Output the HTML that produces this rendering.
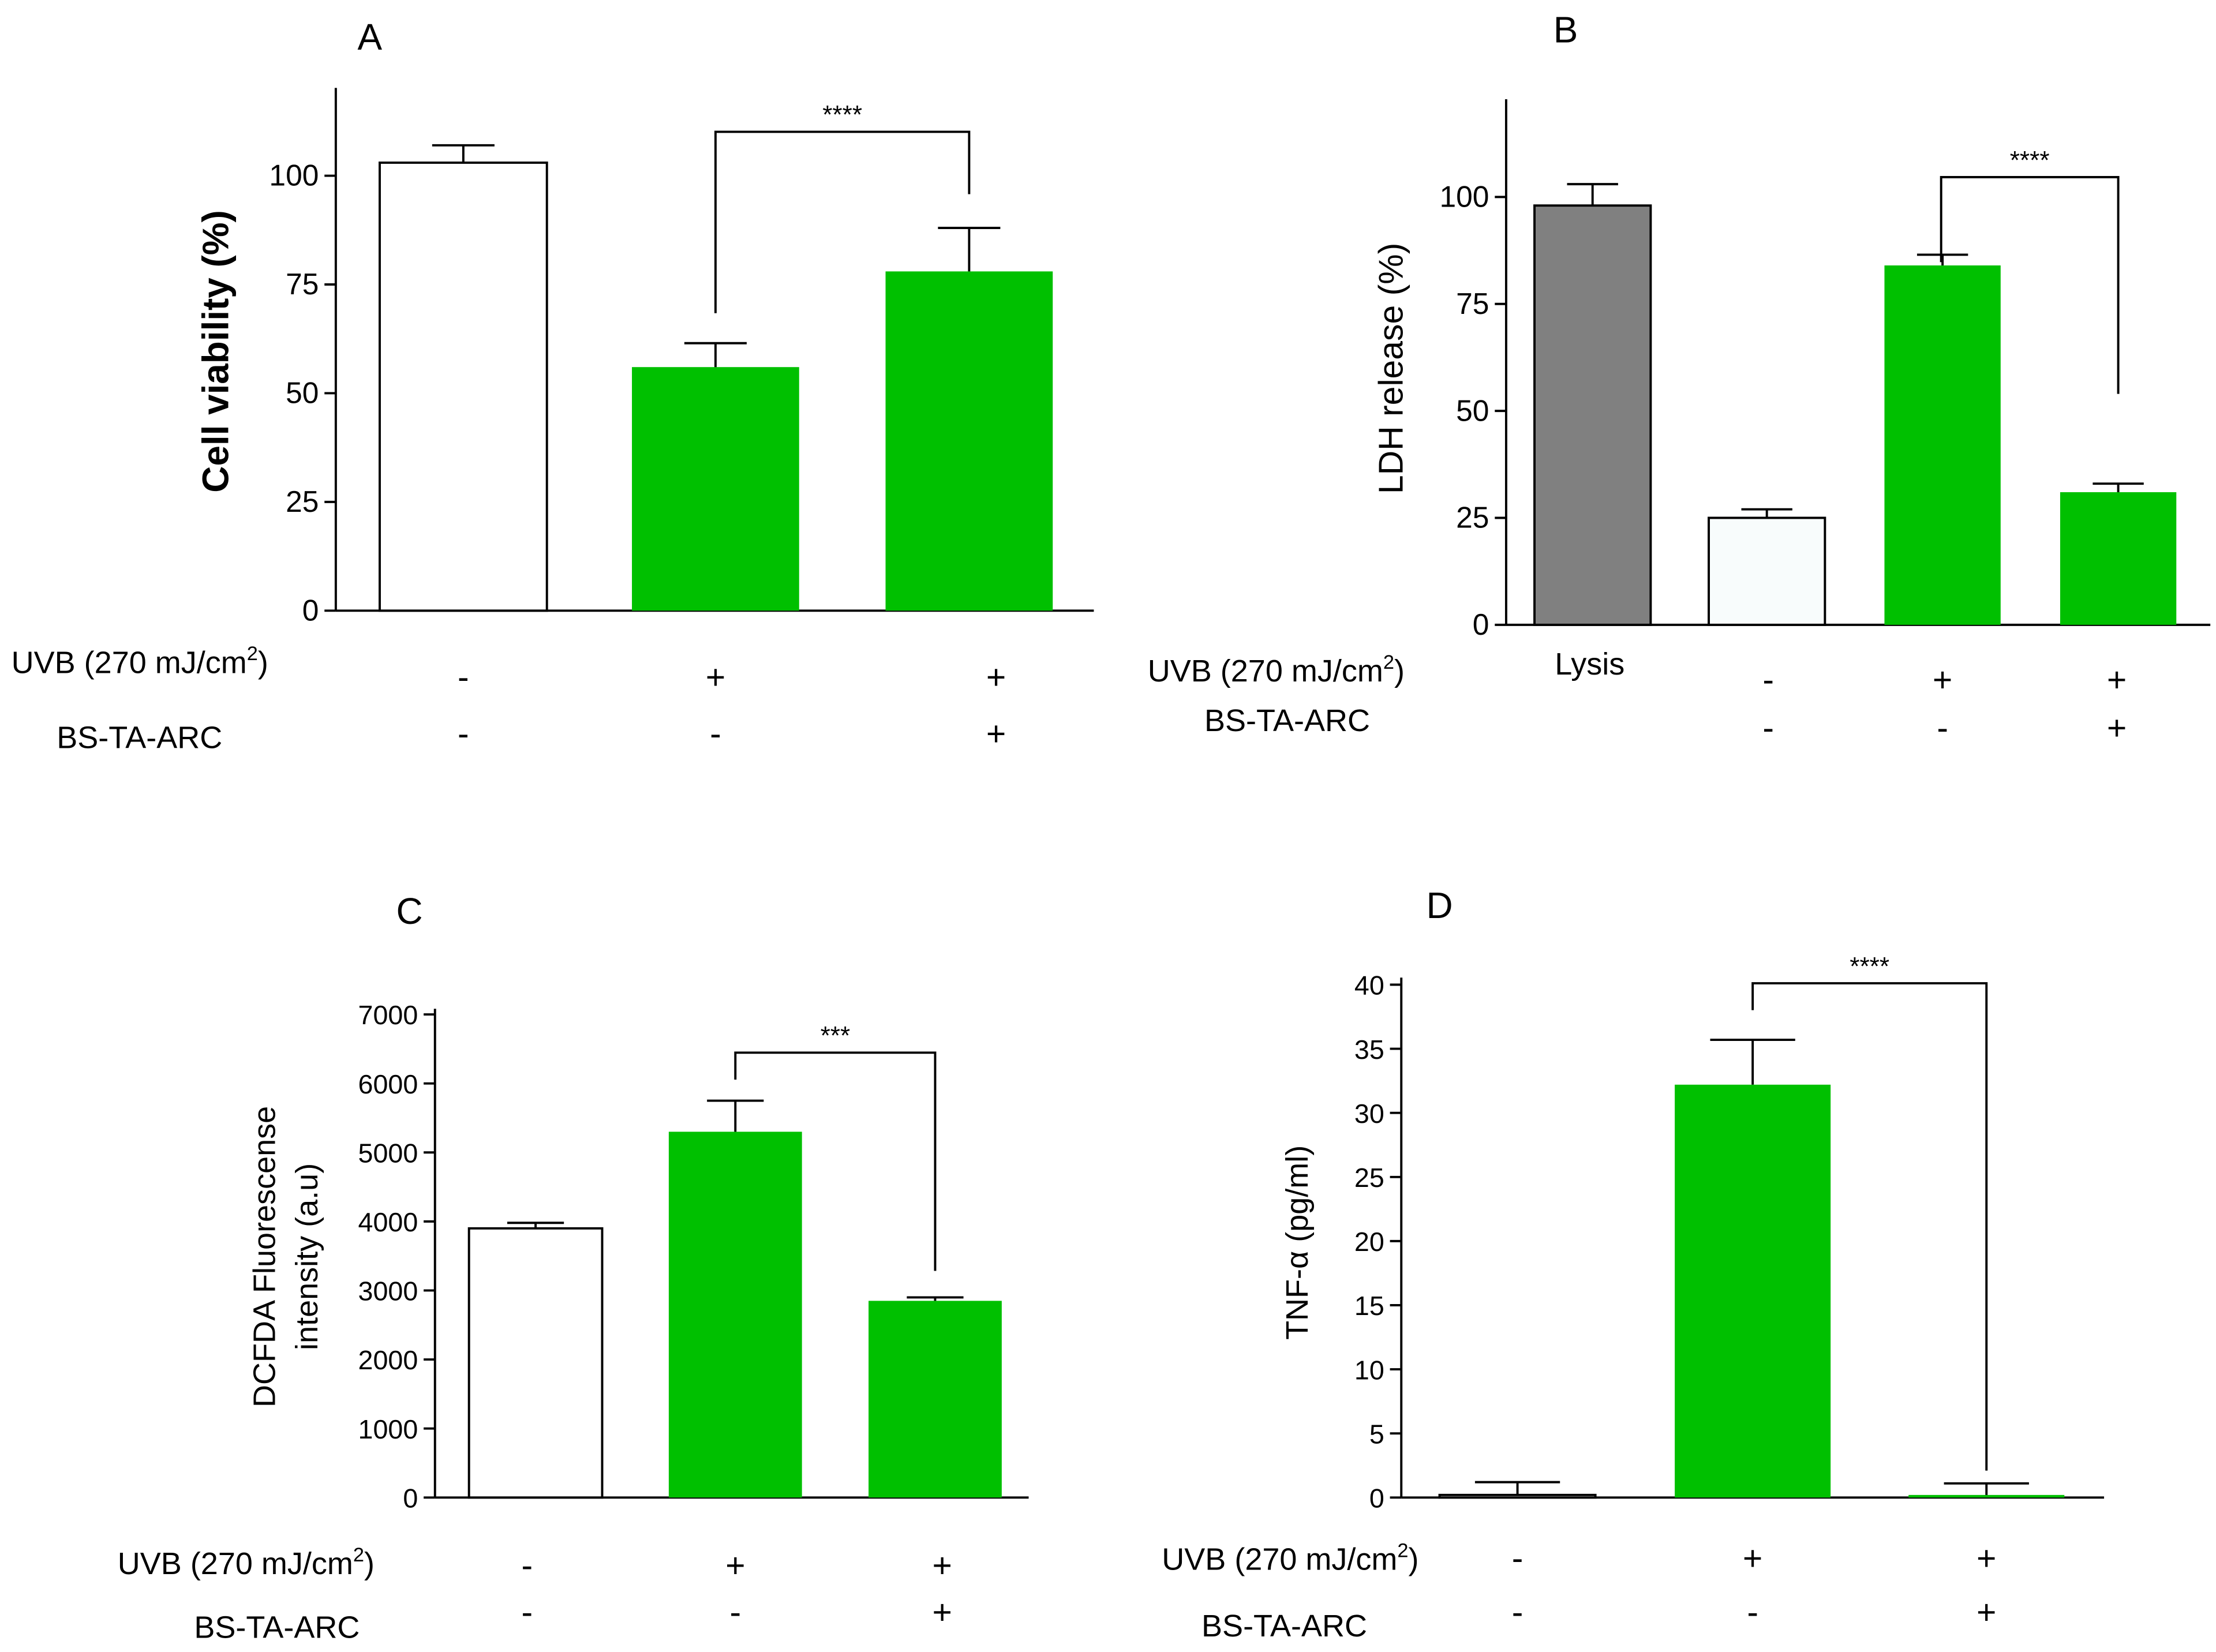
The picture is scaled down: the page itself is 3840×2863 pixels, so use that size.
<!DOCTYPE html>
<html><head><meta charset="utf-8"><style>
html,body{margin:0;padding:0;background:#fff}
svg{display:block}
text{font-family:"Liberation Sans",sans-serif;fill:#000}
</style></head><body>
<svg id="fig" width="3840" height="2863" viewBox="0 0 1564 1166" xmlns="http://www.w3.org/2000/svg"></svg>
<script>
// Panel A data
const aCats=["UVB-","UVB+","UVB+BS"];
const aValues=[103,56,78];
const aErrors=[107,61.5,88];
const aTicks=[0,25,50,75,100];
// Panel B data
const bCats=["Lysis","Control","UVB","UVB+BS"];
const bValues=[98,25,84,31];
const bErrors=[103,27,86.5,33];
const bTicks=[0,25,50,75,100];
// Panel C data
const cCats=["Control","UVB","UVB+BS"];
const cValues=[3900,5300,2850];
const cErrors=[3980,5750,2900];
const cTicks=[0,1000,2000,3000,4000,5000,6000,7000];
// Panel D data
const dCats=["Control","UVB","UVB+BS"];
const dValues=[0.2,32.2,0.2];
const dErrors=[1.2,35.7,1.1];
const dTicks=[0,5,10,15,20,25,30,35,40];

const NS="http://www.w3.org/2000/svg";
const svg=document.getElementById('fig');
function mk(tag,attrs,parent){const e=document.createElementNS(NS,tag);for(const k in attrs)e.setAttribute(k,attrs[k]);(parent||svg).appendChild(e);return e;}
function txt(s,x,y,size,anchor,parent,extra){const t=mk('text',Object.assign({x:x,y:y,'font-size':size,'text-anchor':anchor||'start'},extra||{}),parent);t.textContent=s;return t;}

function panel(p){
  const g=mk('g',{});
  
  
  const y=v=>p.y0-(v-p.vmin)*(p.y0-p.yMaxPx)/(p.vmax-p.vmin);
  // axes
  const ax=mk('line',{x1:p.ax,y1:p.axTop,x2:p.ax,y2:p.y0,stroke:'#000','stroke-width':1.6},g);
  
  
  const xa=mk('line',{x1:p.ax,y1:p.y0,x2:p.axRight,y2:p.y0,stroke:'#000','stroke-width':1.6},g);
  
  
  p.ticks.forEach(t=>{
    mk('line',{x1:p.ax-8,y1:y(t),x2:p.ax,y2:y(t),stroke:'#000','stroke-width':1.6},g);
    const l=txt(String(t),p.ax-12,y(t)+7,p.tickSize,'end',g);
    
    
  });
  p.values.forEach((v,i)=>{
    const cx=p.centers[i],w=p.barW;
    const b=mk('rect',{x:cx-w/2,y:y(v),width:w,height:p.y0-y(v),fill:p.fills[i],stroke:p.fills[i]==='#00c000'?'none':'#000','stroke-width':1.6},g);
    
    
    const e=p.errors[i];
    const eb=mk('path',{d:`M${cx} ${y(v)}V${y(e)}M${cx-p.capW} ${y(e)}H${cx+p.capW}`,stroke:'#000','stroke-width':1.6,fill:'none'},g);
    
    
  });
  const br=p.bracket;
  const bp=mk('path',{d:`M${br[0]} ${br[1]}V${br[2]}H${br[3]}V${br[4]}`,stroke:'#000','stroke-width':1.6,fill:'none'},g);
  
  
  const st=txt(p.stars,(br[0]+br[3])/2,br[2]-6,18,'middle',g);
  
  
  const tt=txt(p.title,p.titlePos[0],p.titlePos[1],26,'middle',g);
  
  
  p.ylabel.forEach((s,k)=>{
    const yl=txt(s,0,0,p.ylabelSize,'middle',g,{transform:`translate(${p.ylabelX[k]},${p.ylabelY}) rotate(-90)`,'font-weight':p.ylabelBold?'bold':'normal'});
    
    
  });
  // row labels
  const u=txt('UVB (270 mJ/cm',p.uvb[0],p.uvb[1],22,'start',g);
  const sup=mk('tspan',{dy:-9,'font-size':14},u);sup.textContent='2';
  const cl=mk('tspan',{dy:9},u);cl.textContent=')';
  
  
  const bs=txt('BS-TA-ARC',p.bs[0],p.bs[1],22,'start',g);
  
  
  p.signX.forEach((x,i)=>{
    const s1=txt(p.sign1[i],x,p.signY[0],24,'middle',g);
    
    
    const s2=txt(p.sign2[i],x,p.signY[1],24,'middle',g);
    
    
  });
  if(p.extra){const l=txt(p.extra[0],p.extra[1],p.extra[2],22,'middle',g);
    
    }
}
const G='#00c000';
panel({name:'panel-a',cats:aCats,values:aValues,errors:aErrors,ticks:aTicks,vmin:0,vmax:100,y0:431,yMaxPx:124,ax:237,axTop:62,axRight:772,
  centers:[327,505,684],barW:118,capW:22,fills:['#fff',G,G],bracket:[505,221,93,684,137],stars:'****',title:'A',titlePos:[261,35],
  ylabel:['Cell viability (%)'],ylabelX:[161],ylabelY:248,ylabelSize:26,ylabelBold:true,tickSize:21,
  uvb:[8,475],bs:[40,528],signX:[327,505,703],sign1:['-','+','+'],sign2:['-','-','+'],signY:[486,526]});
panel({name:'panel-b',cats:bCats,values:bValues,errors:bErrors,ticks:bTicks,vmin:0,vmax:100,y0:441,yMaxPx:139,ax:1063,axTop:70,axRight:1560,
  centers:[1124,1247,1371,1495],barW:82,capW:18,fills:['#808080','#f8fcfc',G,G],bracket:[1370,185,125,1495,278],stars:'****',title:'B',titlePos:[1105,30],
  ylabel:['LDH release (%)'],ylabelX:[990],ylabelY:260,ylabelSize:24,ylabelBold:false,tickSize:21,
  uvb:[810,481],bs:[850,516],signX:[1248,1371,1494],sign1:['-','+','+'],sign2:['-','-','+'],signY:[488,522],extra:['Lysis',1122,476]});
panel({name:'panel-c',cats:cCats,values:cValues,errors:cErrors,ticks:cTicks,vmin:0,vmax:7000,y0:1057,yMaxPx:716,ax:307,axTop:712,axRight:726,
  centers:[378,519,660],barW:94,capW:20,fills:['#fff',G,G],bracket:[519,762,743,660,897],stars:'***',title:'C',titlePos:[289,652],
  ylabel:['DCFDA Fluorescense','intensity (a.u)'],ylabelX:[194,224],ylabelY:887,ylabelSize:22,ylabelBold:false,tickSize:19,
  uvb:[83,1111],bs:[137,1156],signX:[372,519,665],sign1:['-','+','+'],sign2:['-','-','+'],signY:[1113,1146]});
panel({name:'panel-d',cats:dCats,values:dValues,errors:dErrors,ticks:dTicks,vmin:0,vmax:40,y0:1057,yMaxPx:695,ax:989,axTop:690,axRight:1485,
  centers:[1071,1237,1402],barW:110,capW:30,fills:['#fff',G,G],bracket:[1237,713,694,1402,1038],stars:'****',title:'D',titlePos:[1016,648],
  ylabel:['TNF-α (pg/ml)'],ylabelX:[923],ylabelY:877,ylabelSize:22,ylabelBold:false,tickSize:19,
  uvb:[820,1108],bs:[848,1155],signX:[1071,1237,1402],sign1:['-','+','+'],sign2:['-','-','+'],signY:[1108,1146]});
</script>
</body></html>
